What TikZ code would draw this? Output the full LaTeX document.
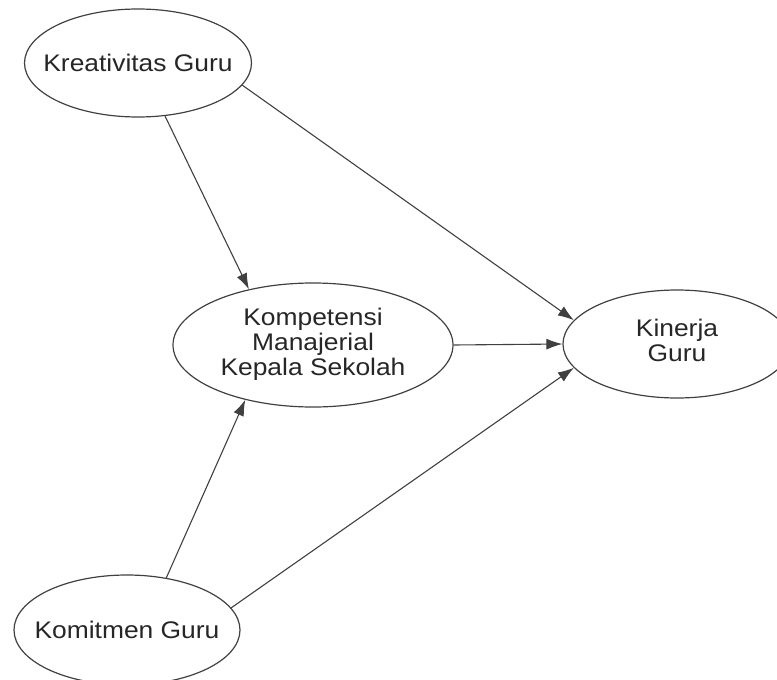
\documentclass[tikz,border=0pt]{standalone}
\usepackage{fontspec}
\setmainfont{Liberation Sans}[FakeStretch=1.1]
\usetikzlibrary{shapes.geometric,arrows.meta}
\begin{document}
\begin{tikzpicture}[x=1pt,y=1pt,
  latent/.style={ellipse,draw=black!75,line width=1.2pt,inner sep=0pt,
    font=\fontsize{24}{25}\selectfont,text=black!85},
  link/.style={draw=black!75,line width=1.1pt,-{Latex[length=16pt,width=11pt]}}]
\useasboundingbox (0,0) rectangle (777,-680);
\clip (0,0) rectangle (777,-680);
\node[latent,minimum width=227,minimum height=108] (kg) at (138,-63) {\makebox[0pt]{Kreativitas Guru}};
\node[latent,minimum width=280,minimum height=124] (km) at (313,-345) {\makebox[0pt]{\begin{tabular}{@{}c@{}}Kompetensi\\Manajerial\\Kepala Sekolah\end{tabular}}};
\node[latent,minimum width=228,minimum height=108] (kin) at (677,-344) {\makebox[0pt]{\begin{tabular}{@{}c@{}}Kinerja\\Guru\end{tabular}}};
\node[latent,minimum width=226,minimum height=110] (kom) at (127,-630) {\makebox[0pt]{Komitmen Guru}};
\draw[link] (kg.-63) -- (km.139);
\draw[link] (kg.-12) -- (kin.167);
\draw[link] (km.east) -- (kin.west);
\draw[link] (kom.53) -- (km.219);
\draw[link] (kom.12) -- (kin.193);
\end{tikzpicture}
\end{document}
